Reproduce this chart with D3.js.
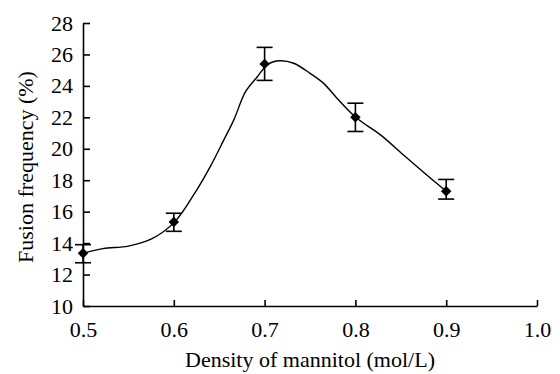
<!DOCTYPE html>
<html>
<head>
<meta charset="utf-8">
<script src="https://cdn.jsdelivr.net/npm/d3@7"></script>
<style>
  body { margin: 0; background: #fff; }
  svg text { font-family: "Liberation Serif", "Times New Roman", serif; fill: #000; }
</style>
</head>
<body>
<div id="chart"></div>
<script>
// measured points (density, mean fusion frequency, error bar low / high)
var density = [0.5, 0.6, 0.7, 0.8, 0.9];
var fusion = [13.35, 15.35, 25.4, 22.0, 17.3];
var errLow = [12.75, 14.75, 24.35, 21.1, 16.8];
var errHigh = [13.9, 15.9, 26.45, 22.9, 18.05];

// smoothed trend line
var curveX = [0.5, 0.522, 0.55, 0.576, 0.601, 0.625, 0.64, 0.655, 0.666, 0.679, 0.692, 0.704,
              0.717, 0.732, 0.75, 0.765, 0.78, 0.801, 0.828, 0.853, 0.876, 0.9];
var curveY = [13.35, 13.65, 13.81, 14.28, 15.35, 17.36, 18.85, 20.55, 21.82, 23.63, 24.58, 25.39,
              25.6, 25.44, 24.8, 24.16, 23.2, 21.97, 20.87, 19.6, 18.46, 17.3];

var xTicks = [0.5, 0.6, 0.7, 0.8, 0.9, 1.0];
var yTicks = [10, 12, 14, 16, 18, 20, 22, 24, 26, 28];

var width = 560, height = 374;
var margin = { left: 83, right: 23, top: 23, bottom: 68 };
var figw = width - margin.left - margin.right,
    figh = height - margin.top - margin.bottom;
var fontSize = "22px";

var xScale = d3.scaleLinear().domain([0.5, 1.0]).range([0, figw]);
var yScale = d3.scaleLinear().domain([10, 28]).range([figh, 0]);

var svg = d3.select("#chart").append("svg")
    .attr("width", width)
    .attr("height", height);

var g = svg.append("g")
    .attr("transform", "translate(" + margin.left + "," + margin.top + ")");

// axes, ticks point inwards
g.append("g")
    .attr("class", "x axis")
    .attr("transform", "translate(0," + figh + ")")
    .call(d3.axisBottom(xScale).tickValues(xTicks).tickSizeInner(-6).tickSizeOuter(0)
      .tickPadding(15).tickFormat(d3.format(".1f")));

g.append("g")
    .attr("class", "y axis")
    .call(d3.axisLeft(yScale).tickValues(yTicks).tickSizeInner(-7).tickSizeOuter(0)
      .tickPadding(10).tickFormat(d3.format("d")));

svg.selectAll(".axis path, .axis line")
    .attr("stroke", "#000")
    .attr("stroke-width", 1.6);
svg.selectAll(".axis text")
    .style("font-size", fontSize);

// axis titles
svg.append("text")
    .attr("x", 310)
    .attr("y", 367)
    .attr("text-anchor", "middle")
    .style("font-size", fontSize)
    .text("Density of mannitol (mol/L)");

svg.append("text")
    .attr("transform", "translate(33,167) rotate(-90)")
    .attr("text-anchor", "middle")
    .style("font-size", fontSize)
    .text("Fusion frequency (%)");

// trend line
var pts = curveX.map(function(d, i) { return [d, curveY[i]]; });
var line = d3.line()
    .x(function(d) { return xScale(d[0]); })
    .y(function(d) { return yScale(d[1]); })
    .curve(d3.curveCatmullRom);

g.append("path")
    .datum(pts)
    .attr("fill", "none")
    .attr("stroke", "#000")
    .attr("stroke-width", 1.4)
    .attr("d", line);

// error bars
var data = density.map(function(d, i) {
  return { x: d, y: fusion[i], lo: errLow[i], hi: errHigh[i] };
});
var cap = 8;

var eb = g.selectAll(".err").data(data).enter().append("g").attr("class", "err")
    .attr("stroke", "#000").attr("stroke-width", 1.6);
eb.append("line")
    .attr("x1", function(d) { return xScale(d.x); })
    .attr("x2", function(d) { return xScale(d.x); })
    .attr("y1", function(d) { return yScale(d.lo); })
    .attr("y2", function(d) { return yScale(d.hi); });
eb.append("line")
    .attr("x1", function(d) { return xScale(d.x) - cap; })
    .attr("x2", function(d) { return xScale(d.x) + cap; })
    .attr("y1", function(d) { return yScale(d.hi); })
    .attr("y2", function(d) { return yScale(d.hi); });
eb.append("line")
    .attr("x1", function(d) { return xScale(d.x) - cap; })
    .attr("x2", function(d) { return xScale(d.x) + cap; })
    .attr("y1", function(d) { return yScale(d.lo); })
    .attr("y2", function(d) { return yScale(d.lo); });

// diamond markers
g.selectAll(".dot").data(data).enter().append("path")
    .attr("class", "dot")
    .attr("d", d3.symbol().type(d3.symbolDiamond2).size(70))
    .attr("transform", function(d) { return "translate(" + xScale(d.x) + "," + yScale(d.y) + ")"; })
    .attr("fill", "#000");
</script>
</body>
</html>
